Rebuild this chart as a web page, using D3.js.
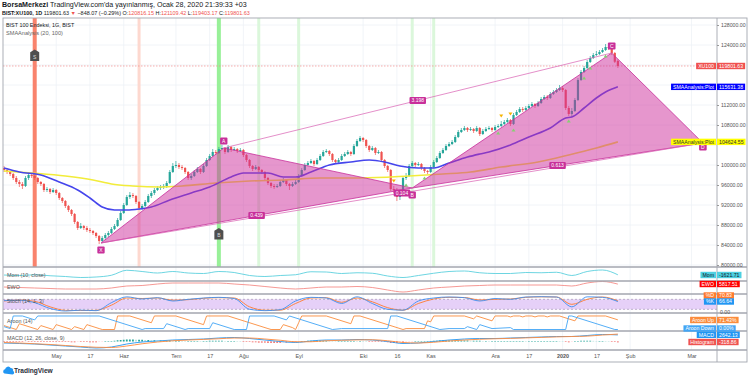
<!DOCTYPE html>
<html>
<head>
<meta charset="utf-8">
<script src="https://cdn.jsdelivr.net/npm/d3@7"></script>
<style>
  body { margin: 0; background: #fff; }
  text { font-family: "Liberation Sans", Arial, sans-serif; }
</style>
</head>
<body>
<div id="chart"></div>
<script>
// ---- price data (daily bars, BIST:XU100, Apr 2019 - Jan 28 2020) ----
var opens = [
  99400,99000,98600,98200,97400,96600,96200,95800,97400,98000,
  97800,97400,96600,96200,95000,95200,94600,95000,94400,93400,
  92800,91800,91000,90200,88600,87400,87800,87400,87000,86800,
  86400,85800,84800,85400,86000,86400,87200,87800,89000,90400,
  92000,93600,94000,93800,92600,91400,91800,92600,93800,94400,
  95000,95400,95600,95800,96400,98600,99800,100000,99600,99400,
  98600,97400,97800,98600,99200,98600,99800,101000,101800,102600,
  102400,103200,103400,102600,103600,103000,103200,102800,103000,102000,
  101000,99800,99200,99600,99000,98600,97400,96400,95800,95600,
  95800,96600,97000,96200,95800,96200,96600,97800,99000,100000,
  100400,100800,100200,101000,101800,102600,102800,102200,101000,100600,
  101000,101800,102200,102600,102200,103800,104800,105400,105000,103800,
  103000,103400,102400,102600,101000,99800,99000,95200,95000,93600,
  94400,97400,97800,99800,100400,100000,100200,99400,98800,98600,
  99600,100600,101400,102400,103000,103800,104200,104600,105600,106600,
  107000,107400,107000,107200,106800,107400,106200,106800,107200,107400,
  107000,107600,107800,108200,108600,109000,108200,110000,110600,111200,
  111000,111400,111800,112200,111800,112400,113200,113600,113400,114200,
  114600,115000,115400,115000,111400,110200,110800,113000,117000,118600,
  119400,120600,121400,122000,122200,122600,123000,123600,123400,122400,
  120816.15
];
var highs = [
  99800,99400,98800,98400,97800,97000,96600,97800,98400,98400,
  98000,97600,96800,96400,95600,95400,95400,95200,94600,93600,
  93000,92000,91200,90400,88800,88400,88000,87800,87400,87000,
  86600,86000,85800,86400,86800,87600,88200,89400,90800,92400,
  94000,94600,94400,94000,92800,92200,93000,94200,94800,95400,
  95800,96000,96200,96800,99000,100400,100800,100400,100000,99600,
  98800,98200,99000,99600,99400,100200,101400,102200,103200,103000,
  103600,104000,103600,104000,103800,103600,103400,103400,103200,102200,
  101200,100000,100000,99800,99200,98800,97600,96600,96200,96200,
  97000,97400,97200,96400,96600,97000,98200,99400,100400,100800,
  101200,101000,101400,102200,103000,103200,103000,102400,101200,101400,
  102200,102600,103000,102800,104200,105200,105800,105600,105200,104000,
  103800,103600,103000,102800,101200,100000,99200,95800,95400,94800,
  97800,98400,100200,100800,100600,100600,100400,99600,99000,100000,
  101000,101800,102800,103400,104200,104600,105000,106000,107000,107400,
  107800,107600,107600,107400,107800,107600,107200,107600,107800,107600,
  108000,108200,108800,109000,109400,109200,110400,111000,111600,111600,
  111800,112200,112600,112400,112800,113600,114000,114000,114600,115000,
  115400,116000,115800,115200,111800,111400,113400,117400,119000,119800,
  121000,121800,122400,122800,123000,123400,124200,124000,123800,122600,
  121109.42
];
var lows = [
  98600,98200,97800,97000,96200,95600,95200,95600,97000,97400,
  97000,96200,95800,94600,94600,94200,94400,94000,93000,92400,
  91400,90600,89800,88200,87000,87200,87000,86600,86400,86000,
  85400,84200,84400,85000,85600,86200,87000,87600,88800,90200,
  91800,93200,93400,92200,91000,91000,91600,92400,93400,94000,
  94800,95000,95200,95400,96200,98400,99400,99200,99000,98200,
  97000,97000,97600,98400,98200,98400,99600,100800,101600,102000,
  102200,103000,102200,102400,102600,102800,102400,102600,101600,100600,
  99400,98800,99000,98600,98200,97000,96000,95400,95200,95400,
  95600,96400,95800,95000,95600,96000,96400,97600,98800,99800,
  100200,99800,100000,100800,101600,102400,101800,100600,100200,100400,
  100800,101600,102000,101800,102000,103600,104600,104600,103400,102600,
  102800,102000,102200,100600,99400,98600,94800,94400,92800,93000,
  94200,97000,97600,99600,99600,99800,99000,98400,98200,98400,
  99400,100400,101200,102200,102800,103600,104000,104400,105400,106400,
  106800,106600,106800,106400,106600,105800,106000,106600,107000,106600,
  106800,107400,107600,108000,108400,107800,108000,109800,110400,110600,
  110800,111200,111600,111400,111600,112200,113000,113000,113200,114000,
  114400,114800,114600,111000,109800,109600,110600,112800,116800,118400,
  119200,120400,121200,121800,122000,122400,122800,123000,122000,120400,
  119403.17
];
var closes = [
  99000,98600,98200,97400,96600,96200,95800,97400,98000,97800,
  97400,96600,96200,95000,95200,94600,95000,94400,93400,92800,
  91800,91000,90200,88600,87400,87800,87400,87000,86800,86400,
  85800,84800,85400,86000,86400,87200,87800,89000,90400,92000,
  93600,94000,93800,92600,91400,91800,92600,93800,94400,95000,
  95400,95600,95800,96400,98600,99800,100000,99600,99400,98600,
  97400,97800,98600,99200,98600,99800,101000,101800,102600,102400,
  103200,103400,102600,103600,103000,103200,102800,103000,102000,101000,
  99800,99200,99600,99000,98600,97400,96400,95800,95600,95800,
  96600,97000,96200,95800,96200,96600,97800,99000,100000,100400,
  100800,100200,101000,101800,102600,102800,102200,101000,100600,101000,
  101800,102200,102600,102200,103800,104800,105400,105000,103800,103000,
  103400,102400,102600,101000,99800,99000,95200,95000,93600,94400,
  97400,97800,99800,100400,100000,100200,99400,98800,98600,99600,
  100600,101400,102400,103000,103800,104200,104600,105600,106600,107000,
  107400,107000,107200,106800,107400,106200,106800,107200,107400,107000,
  107600,107800,108200,108600,109000,108200,110000,110600,111200,111000,
  111400,111800,112200,111800,112400,113200,113600,113400,114200,114600,
  115000,115400,115000,111400,110200,110800,113000,117000,118600,119400,
  120600,121400,122000,122200,122600,123000,123600,123400,122400,120649.7,
  119801.63
];

// SMAAnalysis (20, 100): [bar, value]
var sma20 = [[0,99400],[5,98600],[12,98000],[18,96600],[24,95000],[28,93400],[32,91600],[36,91000],
  [40,91000],[44,91200],[48,91600],[54,93000],[61,94400],[67,95600],[74,97600],[78,98400],[82,98400],
  [86,98400],[91,97600],[95,97600],[100,98600],[106,100000],[113,100600],[119,101000],[124,100600],
  [129,99800],[135,99400],[140,99400],[145,100400],[151,101600],[155,102200],[158,102600],[165,104000],
  [171,105600],[178,107400],[183,109400],[185,109600],[189,111400],[193,113400],[196,114600],[200,115631.38]];
var sma100 = [[0,98800],[9,98400],[20,97800],[29,97000],[35,96200],[42,95800],[51,95600],[58,95800],
  [69,96400],[80,96800],[91,97000],[103,97400],[116,97400],[132,97800],[143,98200],[152,98600],
  [162,99600],[174,100600],[184,102000],[193,103400],[200,104624.55]];

// x axis (bar index of each label)
var tickLabels = ["May","17","Haz","Tem","17","Ağu","Eyl","Eki","16","Kas","Ara","17","2020","17","Şub","Mar"];
var tickIdx = [17,28,39,56,67,78,96,117,128,139,160,171,182,193,204,224];
var priceTicks = d3.range(80000, 128001, 4000);

// XABCD pattern
var patNames = ["X","A","B","C","D"];
var patIdx = [31.6, 71.6, 133, 198, 227.7];
var patPrice = [84400, 103400, 95400, 122400, 104400];
var patRatios = ["0.439","3.198","0.104","0.613"];
var patRatioPairs = [[0,2],[1,3],[0,4],[2,4]];

// vertical highlight bars and signal markers
var bandIdx = [10, 44, 70, 83, 96, 133, 140];
var bandColor = ["#f9836d","#fdd8cf","#98f098","#dbf7db","#dbf7db","#dbf7db","#dbf7db"];
var bandWidth = [4, 3, 4, 3, 3, 3, 3];
var signalIdx = [10, 70];
var signalText = ["S", "B"];
var arrowUpIdx = [131,137,161,166,184,189,191,196];
var arrowDownIdx = [127,162,165];

// indicators, sampled every 5 bars
var indIdx = d3.range(0, 201, 5);
var momVals = [-2000,-3000,-1500,-3500,-5000,-7000,-6000,-2500,7500,5000,
  2000,5000,2000,1000,5000,3000,-3000,-5000,-3000,-1500,
  4500,4000,1000,2500,1500,-4000,-7000,-3000,1500,5000,
  6000,2500,1000,1000,3000,2500,3500,-3000,5000,8000,-1621.71];
var ewoVals = [1500,750,0,-750,-1500,-1500,-1500,0,3000,3750,
  6000,7500,7500,7500,7500,6000,4500,2250,0,-1500,
  0,1500,1500,2250,750,-3000,-6000,-3000,0,1500,
  3000,3750,4500,4500,4500,4500,4500,3000,7500,9750,5817.51];
var stochK = [72,75,60,25,10,15,12,60,95,82,
  90,70,80,88,92,85,20,12,18,70,
  92,88,55,95,55,20,15,70,88,94,
  90,70,85,80,94,96,94,35,95,92,66.64];
var stochD = [70,76,68,35,14,13,14,45,88,85,
  88,75,78,86,90,88,35,15,15,55,
  88,90,62,88,65,30,15,55,82,92,
  91,76,80,82,92,95,94,50,80,94,70.83];
var macdVals = [-600,-800,-1000,-1400,-1800,-2200,-2600,-2200,-1000,-200,
  200,600,800,1000,1400,1600,1200,600,0,-400,
  200,600,600,800,600,0,-800,-600,0,600,
  1000,1200,1200,1400,1600,1800,2000,2000,2400,2800,2642.13];
var signalVals = [-400,-600,-900,-1200,-1600,-2000,-2300,-2400,-1800,-900,
  -200,300,600,850,1100,1400,1400,1000,500,-100,
  -100,300,500,650,700,300,-400,-600,-300,200,
  600,900,1100,1250,1450,1650,1850,2000,2150,2600,2961];
var histVals = [
  -200,-200,-200,-200,-200,-200,-200,-100,-100,-100,
  -100,-100,-200,-200,-200,-200,-200,-200,-200,-200,
  -200,-200,-300,-300,-200,-200,-200,-200,-300,-300,
  -300,-200,-100,0,100,200,300,500,600,700,
  800,800,800,700,700,700,600,600,500,500,
  400,400,300,300,400,300,300,300,200,100,
  200,200,200,200,100,150,200,300,300,300,
  300,300,200,200,200,200,100,0,-100,-200,
  -200,-300,-300,-400,-400,-400,-500,-500,-500,-500,
  -500,-400,-400,-300,-300,-300,-100,0,200,300,
  300,300,300,300,300,300,200,100,0,100,
  100,100,100,200,200,150,150,100,0,-100,
  -100,-100,-100,-200,-200,-300,-500,-500,-500,-400,
  -400,-300,-200,-100,0,0,100,100,200,200,
  300,300,400,400,400,400,400,400,400,400,
  400,400,300,300,300,300,200,200,100,100,
  100,100,100,150,150,150,150,200,200,200,
  150,150,150,150,150,150,150,150,150,150,
  150,100,0,-200,-300,-200,0,200,300,300,
  300,300,250,200,200,200,100,0,-100,-200,
  -318.86];
// Aroon (14) vertices: [bar, value]
var aroonUp = [[0,29],[4,0],[5,43],[11,0],[12,29],[16,0],[17,36],[22,0],[23,21],[26,0],[27,36],[31,7],
  [32,0],[36,0],[37,100],[41,100],[48,50],[49,100],[56,100],[65,36],[66,100],[73,100],[86,7],[87,0],
  [90,0],[91,36],[94,14],[95,0],[96,50],[97,100],[105,100],[113,43],[114,100],[116,100],[130,0],
  [131,7],[137,7],[138,64],[139,57],[140,100],[150,100],[153,79],[154,100],[159,64],[160,100],
  [164,100],[165,93],[166,100],[168,100],[169,93],[170,100],[172,100],[173,93],[174,100],[176,100],
  [177,93],[178,100],[181,100],[186,64],[187,100],[196,100],[200,71.43]];
var aroonDown = [[0,21],[2,7],[3,100],[6,100],[10,71],[11,100],[31,100],[45,0],[46,7],[52,7],[53,43],
  [59,0],[60,7],[67,7],[68,50],[75,0],[79,0],[80,100],[88,100],[92,71],[93,100],[107,0],[110,7],
  [125,7],[126,100],[128,100],[142,0],[145,7],[150,7],[151,21],[154,0],[155,36],[159,7],[165,14],
  [166,0],[183,0],[184,100],[185,100],[199,0],[200,0]];

// ---- layout ----
var W = 750, H = 378;
var plotL = 3, plotR = 717, axisR = 747, plotTop = 18, plotBottom = 362;
var paneY = [267, 281, 294, 313, 331, 350];
var upCol = "#26a69a", dnCol = "#ef5350";

var svg = d3.select("#chart").append("svg")
    .attr("width", W)
    .attr("height", H);

var x = d3.scaleLinear().domain([-0.33, 232.3]).range([plotL, plotR]);
var yP = d3.scaleLinear().domain([80000, 128000]).range([265, 25]);
var yMom = d3.scaleLinear().domain([-14000, 14000]).range([281, 267]);
var yEwo = d3.scaleLinear().domain([-9000, 10500]).range([294, 281]);
var yStoch = d3.scaleLinear().domain([-2, 112]).range([313, 294]);
var yAroon = d3.scaleLinear().domain([-11, 122]).range([331, 313]);
var yMacd = d3.scaleLinear().domain([-3400, 4200]).range([350, 331]);

svg.append("defs").append("clipPath").attr("id", "clipP")
  .append("rect").attr("x", plotL).attr("y", plotTop).attr("width", plotR - plotL).attr("height", paneY[0] - plotTop);

// header
var h1 = svg.append("text").attr("x", 2).attr("y", 7).attr("font-size", 7.1).attr("fill", "#131722");
h1.append("tspan").attr("font-weight", "bold").text("BorsaMerkezi");
h1.append("tspan").text(" TradingView.com'da yayınlanmış, Ocak 28, 2020 21:39:33 +03");

var h2 = svg.append("text").attr("x", 2).attr("y", 14.5).attr("font-size", 5.45).attr("fill", "#131722");
h2.append("tspan").attr("font-weight", "bold").text("BIST:XU100, 1D");
h2.append("tspan").text(" 119801.63 ");
h2.append("tspan").attr("fill", dnCol).text("▼");
h2.append("tspan").text(" −848.07 (−0.29%) O:");
h2.append("tspan").attr("fill", dnCol).text("120816.15");
h2.append("tspan").text(" H:");
h2.append("tspan").attr("fill", dnCol).text("121109.42");
h2.append("tspan").text(" L:");
h2.append("tspan").attr("fill", dnCol).text("119403.17");
h2.append("tspan").text(" C:");
h2.append("tspan").attr("fill", dnCol).text("119801.63");

// grid
svg.append("g").selectAll("line").data(tickIdx).join("line")
  .attr("x1", d => x(d)).attr("x2", d => x(d))
  .attr("y1", plotTop).attr("y2", paneY[5])
  .attr("stroke", "#edf1f6").attr("stroke-width", 0.8);
svg.append("g").selectAll("line").data(priceTicks).join("line")
  .attr("x1", plotL).attr("x2", plotR)
  .attr("y1", d => yP(d)).attr("y2", d => yP(d))
  .attr("stroke", "#edf1f6").attr("stroke-width", 0.8);

// price pane
var gP = svg.append("g").attr("clip-path", "url(#clipP)");

gP.selectAll(".band").data(bandIdx).join("rect")
  .attr("x", (d, i) => x(d) - bandWidth[i] / 2)
  .attr("width", (d, i) => bandWidth[i])
  .attr("y", plotTop).attr("height", paneY[0] - plotTop)
  .attr("fill", (d, i) => bandColor[i]);

gP.append("line")
  .attr("x1", plotL).attr("x2", plotR)
  .attr("y1", yP(closes[200])).attr("y2", yP(closes[200]))
  .attr("stroke", "#f08a8a").attr("stroke-width", 0.7).attr("stroke-dasharray", "1.5,1.5");

var bars = closes.map(function(c, i) {
  return {i: i, o: opens[i], h: highs[i], l: lows[i], c: c};
});

gP.selectAll(".wick").data(bars).join("line")
  .attr("x1", d => x(d.i)).attr("x2", d => x(d.i))
  .attr("y1", d => yP(d.h)).attr("y2", d => yP(d.l))
  .attr("stroke", d => d.c >= d.o ? upCol : dnCol).attr("stroke-width", 0.7);

gP.selectAll(".body").data(bars).join("rect")
  .attr("x", d => x(d.i) - 1.1).attr("width", 2.2)
  .attr("y", d => yP(Math.max(d.o, d.c)))
  .attr("height", d => Math.max(0.8, Math.abs(yP(d.o) - yP(d.c))))
  .attr("fill", d => d.c >= d.o ? upCol : dnCol);

var smaLine = d3.line().x(d => x(d[0])).y(d => yP(d[1])).curve(d3.curveMonotoneX);
gP.append("path").attr("d", smaLine(sma100)).attr("fill", "none").attr("stroke", "#f2ec3a").attr("stroke-width", 1.6);
gP.append("path").attr("d", smaLine(sma20)).attr("fill", "none").attr("stroke", "#4545ec").attr("stroke-width", 1.6);

// harmonic pattern
var pp = patIdx.map((d, i) => [x(d), yP(patPrice[i])]);
var patCol = "#c8309a";
[[0,1,2],[2,3,4]].forEach(function(t) {
  gP.append("polygon")
    .attr("points", t.map(k => pp[k].join(",")).join(" "))
    .attr("fill", "rgba(205,45,155,0.5)")
    .attr("stroke", patCol).attr("stroke-width", 0.8);
});
patRatioPairs.forEach(function(p, k) {
  if (k === 1 || k === 2) {
    gP.append("line")
      .attr("x1", pp[p[0]][0]).attr("y1", pp[p[0]][1])
      .attr("x2", pp[p[1]][0]).attr("y2", pp[p[1]][1])
      .attr("stroke", "#d85fb2").attr("stroke-width", 0.7);
  }
});

// signal arrows
gP.selectAll(".aup").data(arrowUpIdx).join("path")
  .attr("d", d => { var cx = x(d), cy = yP(lows[d]) + 5; return "M" + (cx - 2) + "," + (cy + 1.6) + "L" + (cx + 2) + "," + (cy + 1.6) + "L" + cx + "," + (cy - 1.6) + "Z"; })
  .attr("fill", "#86cf73");
gP.selectAll(".adn").data(arrowDownIdx).join("path")
  .attr("d", d => { var cx = x(d), cy = yP(highs[d]) - 5; return "M" + (cx - 2) + "," + (cy - 1.6) + "L" + (cx + 2) + "," + (cy - 1.6) + "L" + cx + "," + (cy + 1.6) + "Z"; })
  .attr("fill", "#f5b400");

function pill(g, cx, cy, txt, bg, fg) {
  var t = g.append("text").attr("x", cx).attr("y", cy + 1.8).attr("text-anchor", "middle")
    .attr("font-size", 5).attr("fill", fg).text(txt);
  var w = t.node().getComputedTextLength() + 4;
  g.insert("rect", function() { return t.node(); })
    .attr("x", cx - w / 2).attr("y", cy - 3.4).attr("width", w).attr("height", 6.8)
    .attr("rx", 1).attr("fill", bg);
}

var gL = svg.append("g").attr("clip-path", "url(#clipP)");
patRatioPairs.forEach(function(p, k) {
  pill(gL, (pp[p[0]][0] + pp[p[1]][0]) / 2, (pp[p[0]][1] + pp[p[1]][1]) / 2, patRatios[k], patCol, "#fff");
});
var patDy = [7, -7, 7, -7, 4];
patNames.forEach(function(n, k) {
  pill(gL, pp[k][0], pp[k][1] + patDy[k], n, patCol, "#fff");
});

// S / B markers
var sigY = [55.5, 234];
signalIdx.forEach(function(d, k) {
  var cx = x(d), cy = sigY[k];
  gL.append("path")
    .attr("d", "M" + cx + "," + (cy - 6) + "L" + (cx + 4.5) + "," + (cy - 3.2) + "L" + (cx + 4.5) + "," + (cy + 5.5) +
      "L" + (cx - 4.5) + "," + (cy + 5.5) + "L" + (cx - 4.5) + "," + (cy - 3.2) + "Z")
    .attr("fill", "#4f4f4f");
  gL.append("text").attr("x", cx).attr("y", cy + 3.4).attr("text-anchor", "middle")
    .attr("font-size", 5).attr("fill", "#ddd").text(signalText[k]);
});

// legend in price pane
svg.append("text").attr("x", 6).attr("y", 27).attr("font-size", 5.4).attr("fill", "#131722").text("BIST 100 Endeksi, 1G, BIST");
svg.append("text").attr("x", 6).attr("y", 35).attr("font-size", 5.6).attr("fill", "#666").text("SMAAnalysis (20, 100)");

// ---- indicator panes ----
var idxLine = function(ys) { return d3.line().x((d, i) => x(indIdx[i])).y(d => ys(d)).curve(d3.curveMonotoneX); };
var ptLine = function(ys) { return d3.line().x(d => x(d[0])).y(d => ys(d[1])); };

// Stoch band
svg.append("rect").attr("x", plotL).attr("width", plotR - plotL)
  .attr("y", yStoch(80)).attr("height", yStoch(20) - yStoch(80)).attr("fill", "#e6d0f8");
[80, 20].forEach(function(v) {
  svg.append("line").attr("x1", plotL).attr("x2", plotR).attr("y1", yStoch(v)).attr("y2", yStoch(v))
    .attr("stroke", "#9b8aa9").attr("stroke-width", 0.6).attr("stroke-dasharray", "2,2");
});

svg.append("path").attr("d", idxLine(yMom)(momVals)).attr("fill", "none").attr("stroke", "#5cd0de").attr("stroke-width", 0.9);
svg.append("path").attr("d", idxLine(yEwo)(ewoVals)).attr("fill", "none").attr("stroke", "#f48c88").attr("stroke-width", 0.9);
svg.append("path").attr("d", idxLine(yStoch)(stochD)).attr("fill", "none").attr("stroke", "#ff7a2e").attr("stroke-width", 0.9);
svg.append("path").attr("d", idxLine(yStoch)(stochK)).attr("fill", "none").attr("stroke", "#3d8ef0").attr("stroke-width", 0.9);
svg.append("path").attr("d", ptLine(yAroon)(aroonUp)).attr("fill", "none").attr("stroke", "#fb8c3c").attr("stroke-width", 0.9);
svg.append("path").attr("d", ptLine(yAroon)(aroonDown)).attr("fill", "none").attr("stroke", "#42a5f5").attr("stroke-width", 0.9);

svg.append("g").selectAll("rect").data(histVals).join("rect")
  .attr("x", (d, i) => x(i) - 0.9).attr("width", 1.8)
  .attr("y", d => yMacd(Math.max(0, d)))
  .attr("height", d => Math.max(0.5, Math.abs(yMacd(d) - yMacd(0))))
  .attr("fill", function(d, i) {
    var prev = i > 0 ? histVals[i - 1] : d;
    if (d >= 0) return d >= prev ? "#26a69a" : "#b2dfdb";
    return d <= prev ? "#ef5350" : "#ffcdd2";
  });
svg.append("path").attr("d", idxLine(yMacd)(macdVals)).attr("fill", "none").attr("stroke", "#2196f3").attr("stroke-width", 0.9);
svg.append("path").attr("d", idxLine(yMacd)(signalVals)).attr("fill", "none").attr("stroke", "#ff8a3d").attr("stroke-width", 0.9);

var paneNames = ["Mom (10, close)", "EWO", "Stoch (14, 1, 3)", "Aroon (14)", "MACD (12, 26, close, 9)"];
var paneNameY = [277, 289, 303, 323, 340];
paneNames.forEach(function(n, k) {
  svg.append("text").attr("x", 7).attr("y", paneNameY[k]).attr("font-size", 5.4).attr("fill", "#555").text(n);
});

// ---- frame and axes ----
var frame = svg.append("g").attr("stroke", "#a3a6af").attr("fill", "none");
frame.append("rect").attr("x", plotL).attr("y", plotTop).attr("width", axisR - plotL).attr("height", plotBottom - plotTop).attr("stroke-width", 0.9);
frame.append("line").attr("x1", plotR).attr("x2", plotR).attr("y1", plotTop).attr("y2", plotBottom).attr("stroke-width", 0.9);
paneY.forEach(function(yv) {
  frame.append("line").attr("x1", plotL).attr("x2", axisR).attr("y1", yv).attr("y2", yv).attr("stroke-width", 1.3);
});

// price values shown in tags hide the tick labels underneath them
var tagPrices = [119801.63, 115631.38, 104624.55];
var shownTicks = priceTicks.filter(t => tagPrices.every(p => Math.abs(yP(t) - yP(p)) > 6));

var pAxis = svg.append("g").attr("transform", "translate(" + plotR + ",0)")
  .call(d3.axisRight(yP).tickValues(shownTicks).tickSize(2).tickPadding(2).tickFormat(d3.format(".2f")));
pAxis.select(".domain").remove();
pAxis.selectAll("line").attr("stroke", "#999");
pAxis.selectAll("text").attr("font-size", 5.2).attr("fill", "#555").style("font-family", '"Liberation Sans", Arial, sans-serif');

var xAxis = svg.append("g").attr("transform", "translate(0," + paneY[5] + ")")
  .call(d3.axisBottom(x).tickValues(tickIdx).tickSize(0).tickPadding(4).tickFormat((d, i) => tickLabels[i]));
xAxis.select(".domain").remove();
xAxis.selectAll("text").attr("font-size", 5.4).attr("fill", "#555")
  .attr("font-weight", (d, i) => tickLabels[i] === "2020" ? "bold" : "normal")
  .style("font-family", '"Liberation Sans", Arial, sans-serif');

// ---- right-hand value tags ----
function tag(y, name, value, bg, fg) {
  var g = svg.append("g");
  var vt = g.append("text").attr("x", 719).attr("y", y + 1.8).attr("font-size", 5.2).attr("fill", fg).text(value);
  var vw = vt.node().getComputedTextLength();
  g.insert("rect", "text").attr("x", 717).attr("y", y - 3.2).attr("width", vw + 4).attr("height", 6.4).attr("fill", bg);
  var nt = g.append("text").attr("x", 714).attr("y", y + 1.8).attr("text-anchor", "end").attr("font-size", 5.2).attr("fill", fg).text(name);
  var nw = nt.node().getComputedTextLength();
  g.insert("rect", "text").attr("x", 714 - nw - 2).attr("y", y - 3.2).attr("width", nw + 4).attr("height", 6.4).attr("fill", bg);
}
tag(yP(tagPrices[0]), "XU100", "119801.63", "#f0514f", "#fff");
tag(yP(tagPrices[1]), "SMAAnalysis:Plot", "115631.38", "#0000ff", "#fff");
tag(yP(tagPrices[2]), "SMAAnalysis:Plot", "104624.55", "#ffff00", "#333");
tag(275, "Mom", "-1621.71", "#4dd0e1", "#131722");
tag(284, "EWO", "5817.51", "#ff0000", "#fff");
tag(295.5, "%D", "70.83", "#ff7a2e", "#fff");
tag(301.5, "%K", "66.64", "#2196f3", "#fff");
tag(320, "Aroon Up", "71.43%", "#fb8c3c", "#fff");
tag(328.5, "Aroon Down", "0.00%", "#42a5f5", "#fff");
tag(334.8, "MACD", "2642.13", "#2196f3", "#fff");
tag(342, "Histogram", "-318.86", "#ef5350", "#fff");

svg.append("text").attr("x", 720).attr("y", yStoch(0) + 1.8).attr("font-size", 5.2).attr("fill", "#555").text("0.00");

// ---- TradingView mark ----
var logo = svg.append("g").attr("transform", "translate(3,366)");
logo.append("path")
  .attr("d", "M1.5,7.5 a2.2,2.2 0 0 1 0.6,-4.2 a3,3 0 0 1 5.6,-1.2 a2.4,2.4 0 0 1 2.4,2.8 a1.9,1.9 0 0 1 -0.6,3.6 Z")
  .attr("fill", "#2196f3");
svg.append("text").attr("x", 14).attr("y", 373).attr("font-size", 6.6).attr("font-weight", "bold")
  .attr("fill", "#2a2e39").text("TradingView");
</script>
</body>
</html>
